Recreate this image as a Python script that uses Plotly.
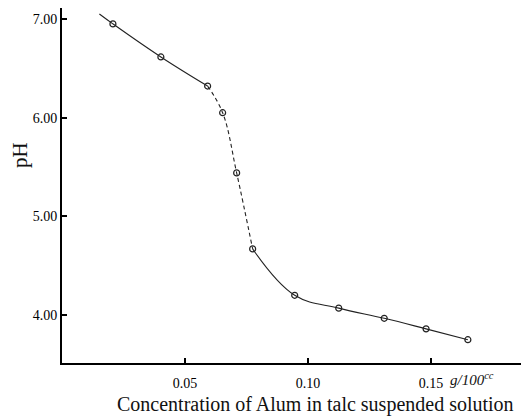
import plotly.graph_objects as go

# Measured data (concentration g/100cc, pH)
conc = [0.0207, 0.0402, 0.0592, 0.0653, 0.0710, 0.0775, 0.0946, 0.1125, 0.1310, 0.1480, 0.1650]
ph = [6.95, 6.615, 6.32, 6.05, 5.44, 4.67, 4.20, 4.07, 3.967, 3.86, 3.75]

# Start of the drawn fit curve (extends a little left of first point)
curve_start_x = [0.0152]
curve_start_y = [7.05]

y_ticks = [4, 5, 6, 7]
y_tick_labels = ["4.00", "5.00", "6.00", "7.00"]
x_ticks = [0.05, 0.10, 0.15]
x_tick_labels = ["0.05", "0.10", "0.15"]

ink = "#222222"
tick_font = dict(family="Liberation Serif", size=14, color="#000000")

fig = go.Figure()

line_common = dict(color=ink, width=1.1, shape="spline", smoothing=1.1)

fig.add_trace(go.Scatter(
    x=curve_start_x + conc[:3], y=curve_start_y + ph[:3],
    mode="lines", line=line_common,
    hoverinfo="skip", showlegend=False))
fig.add_trace(go.Scatter(
    x=conc[2:6], y=ph[2:6],
    mode="lines", line=dict(line_common, dash="4px,3px"),
    hoverinfo="skip", showlegend=False))
fig.add_trace(go.Scatter(
    x=conc[5:], y=ph[5:],
    mode="lines", line=line_common,
    hoverinfo="skip", showlegend=False))
fig.add_trace(go.Scatter(
    x=conc, y=ph, mode="markers",
    marker=dict(symbol="circle-open", size=6, color=ink, line=dict(width=1.2, color=ink)),
    showlegend=False))

fig.update_layout(
    width=521, height=418,
    margin=dict(l=62, r=0, t=8, b=55, autoexpand=False),
    paper_bgcolor="white", plot_bgcolor="white",
    showlegend=False,
    xaxis=dict(
        range=[0, 0.1866], showgrid=False, zeroline=False, automargin=False,
        showline=True, linecolor="black", linewidth=2,
        tickmode="array", tickvals=x_ticks, ticktext=x_tick_labels,
        ticks="inside", ticklen=5, tickwidth=2, tickcolor="black",
        tickfont=tick_font, ticklabelstandoff=6),
    yaxis=dict(
        range=[3.514, 7.111], showgrid=False, zeroline=False, automargin=False,
        showline=True, linecolor="black", linewidth=2,
        tickmode="array", tickvals=y_ticks, ticktext=y_tick_labels,
        ticks="inside", ticklen=5, tickwidth=2, tickcolor="black",
        tickfont=tick_font, ticklabelstandoff=0),
    annotations=[
        dict(text="Concentration of Alum in talc suspended solution",
             xref="paper", yref="paper", x=0.553, y=-0.118,
             showarrow=False, xanchor="center", yanchor="middle",
             font=dict(family="Liberation Serif", size=20, color="#111111")),
        dict(text="<i>g/100<sup>cc</sup></i>",
             xref="x", yref="paper", x=0.1665, y=-0.045,
             showarrow=False, xanchor="center", yanchor="middle",
             font=dict(family="Liberation Serif", size=15, color="#111111")),
        dict(text="pH", textangle=-90,
             xref="paper", yref="paper", x=-0.0915, y=0.586,
             showarrow=False, xanchor="center", yanchor="middle",
             font=dict(family="Liberation Serif", size=21, color="#111111")),
    ],
)

fig.write_html("out.html", config={"displayModeBar": False},
               post_script="document.body.style.margin='0';")
